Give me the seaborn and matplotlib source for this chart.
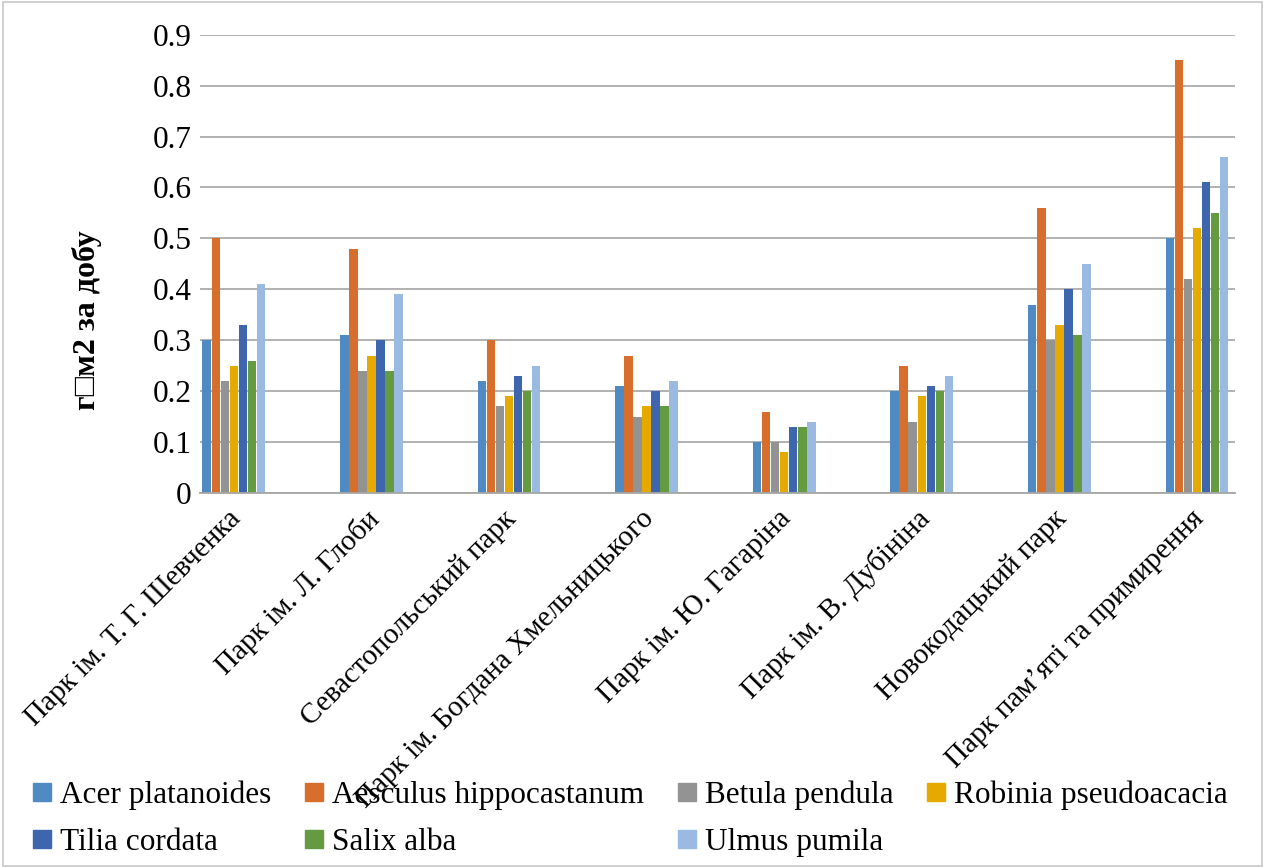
import pandas as pd
import matplotlib.pyplot as plt
import seaborn as sns
from matplotlib.patches import Rectangle
from matplotlib.transforms import ScaledTranslation

sns.set_style('white')
plt.rcParams['font.family'] = ['Liberation Serif', 'DejaVu Serif']
plt.rcParams['text.color'] = 'black'
plt.rcParams['xtick.color'] = 'black'
plt.rcParams['ytick.color'] = 'black'
plt.rcParams['axes.labelcolor'] = 'black'

parks = ["Парк ім. Т. Г. Шевченка", "Парк ім. Л. Глоби", "Севастопольський парк",
         "Парк ім. Богдана Хмельницького", "Парк ім. Ю. Гагаріна", "Парк ім. В. Дубініна",
         "Новокодацький парк", "Парк пам’яті та примирення"]
species = ["Acer platanoides", "Aesculus hippocastanum", "Betula pendula",
           "Robinia pseudoacacia", "Tilia cordata", "Salix alba", "Ulmus pumila"]

acer = [0.30, 0.31, 0.22, 0.21, 0.10, 0.20, 0.37, 0.50]
aesculus = [0.50, 0.48, 0.30, 0.27, 0.16, 0.25, 0.56, 0.85]
betula = [0.22, 0.24, 0.17, 0.15, 0.10, 0.14, 0.30, 0.42]
robinia = [0.25, 0.27, 0.19, 0.17, 0.08, 0.19, 0.33, 0.52]
tilia = [0.33, 0.30, 0.23, 0.20, 0.13, 0.21, 0.40, 0.61]
salix = [0.26, 0.24, 0.20, 0.17, 0.13, 0.20, 0.31, 0.55]
ulmus = [0.41, 0.39, 0.25, 0.22, 0.14, 0.23, 0.45, 0.66]

yticks = [0, 0.1, 0.2, 0.3, 0.4, 0.5, 0.6, 0.7, 0.8, 0.9]
ytick_labels = ["0", "0.1", "0.2", "0.3", "0.4", "0.5", "0.6", "0.7", "0.8", "0.9"]

colors = ["#4F8BC2", "#D86E2B", "#939393", "#E6A900", "#3D66AE", "#659B40", "#9BBAE2"]

rows = []
for sp, vals in zip(species, [acer, aesculus, betula, robinia, tilia, salix, ulmus]):
    for p, v in zip(parks, vals):
        rows.append({"park": p, "species": sp, "value": v})
df = pd.DataFrame(rows)

fig = plt.figure(figsize=(12.65, 8.68), dpi=100)
ax = fig.add_axes([0.158, 0.432, 0.818, 0.528])

sns.barplot(data=df, x="park", y="value", hue="species", palette=colors,
            width=0.46, gap=0.06, ax=ax, legend=False, saturation=1,
            linewidth=0, edgecolor="none")

ax.set_ylim(0, 0.9)
ax.set_xlim(-0.247, 7.274)
ax.set_yticks(yticks)
ax.set_yticklabels(ytick_labels, fontsize=22.5)
ax.yaxis.grid(True, color="#ababab", linewidth=1.3)
ax.set_axisbelow(True)
for s in ["top", "right", "left"]:
    ax.spines[s].set_visible(False)
ax.spines["bottom"].set_color("#a6a6a6")
ax.spines["bottom"].set_linewidth(1.3)
ax.tick_params(axis="both", length=0)
ax.tick_params(axis="y", pad=6)

ax.set_xticks(range(len(parks)))
ax.set_xticklabels(parks, rotation=45, ha="right", va="top", rotation_mode="anchor",
                   fontsize=21)
ax.tick_params(axis="x", pad=6)
shift = ScaledTranslation(-6 / 100, -4 / 100, fig.dpi_scale_trans)
for lbl in ax.get_xticklabels():
    lbl.set_transform(lbl.get_transform() + shift)
ax.set_xlabel("")
ax.set_ylabel("г\u25a1м2 за добу", fontsize=23, fontweight="bold")
ax.yaxis.set_label_coords(-0.095, 0.378)

# legend, row-wise like the original
leg_x = [33, 305, 678, 927, 33, 305, 678]
leg_y = [792, 792, 792, 792, 839, 839, 839]
W, H = 1265, 868
for sp, c, lx, ly in zip(species, colors, leg_x, leg_y):
    fig.patches.append(Rectangle((lx / W, 1 - (ly + 9) / H), 18 / W, 18 / H,
                                 transform=fig.transFigure, color=c))
    fig.text((lx + 27) / W, 1 - ly / H, sp, fontsize=22.5, va="center_baseline", ha="left")

fig.patches.append(Rectangle((0.002, 0.002), 0.996, 0.996, transform=fig.transFigure,
                             fill=False, edgecolor="#c8c8c8", linewidth=1.2))

plt.savefig("out.png", dpi=100)
